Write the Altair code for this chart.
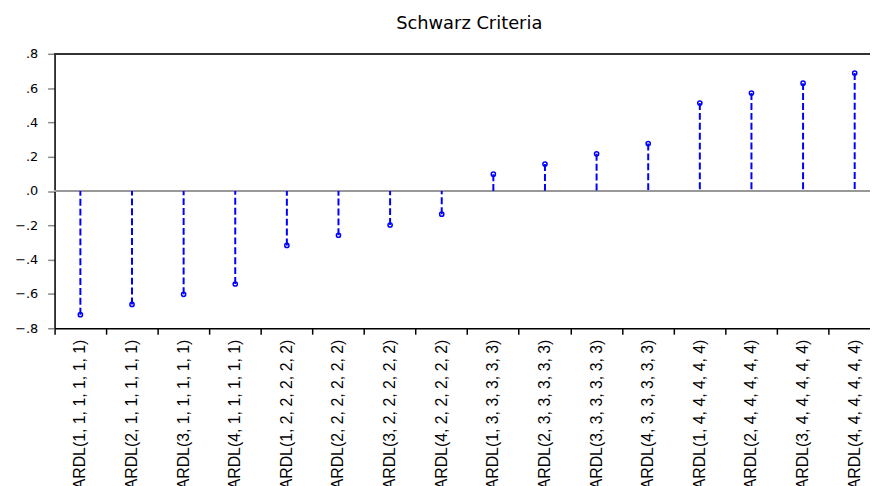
import altair as alt
import pandas as pd

models = [
    "ARDL(1, 1, 1, 1, 1, 1)", "ARDL(2, 1, 1, 1, 1, 1)", "ARDL(3, 1, 1, 1, 1, 1)", "ARDL(4, 1, 1, 1, 1, 1)",
    "ARDL(1, 2, 2, 2, 2, 2)", "ARDL(2, 2, 2, 2, 2, 2)", "ARDL(3, 2, 2, 2, 2, 2)", "ARDL(4, 2, 2, 2, 2, 2)",
    "ARDL(1, 3, 3, 3, 3, 3)", "ARDL(2, 3, 3, 3, 3, 3)", "ARDL(3, 3, 3, 3, 3, 3)", "ARDL(4, 3, 3, 3, 3, 3)",
    "ARDL(1, 4, 4, 4, 4, 4)", "ARDL(2, 4, 4, 4, 4, 4)", "ARDL(3, 4, 4, 4, 4, 4)", "ARDL(4, 4, 4, 4, 4, 4)",
]
sic = [-0.721, -0.661, -0.602, -0.542, -0.317, -0.258, -0.198, -0.135,
       0.098, 0.157, 0.217, 0.277, 0.513, 0.571, 0.629, 0.688]
y_ticks = [-0.8, -0.6, -0.4, -0.2, 0.0, 0.2, 0.4, 0.6, 0.8]

df = pd.DataFrame({"model": models, "sic": sic})

W = 823
H = 277
BAND = 52.1

xscale = alt.Scale(type="band", domain=models, range=[0, BAND * len(models)],
                   paddingInner=0, paddingOuter=0)
yscale = alt.Scale(domain=[-0.8, 0.8], nice=False, zero=False)

x_axis = alt.Axis(bandPosition=0, labelAngle=-90,
                  labelAlign="right", labelBaseline="middle",
                  labelFont="Liberation Sans", labelFontSize=16,
                  labelColor="black", labelPadding=5,
                  tickSize=6, tickColor="black", tickWidth=1.5,
                  domainColor="black", domainWidth=1.5, labelOverlap=False,
                  labelLimit=400, grid=False)
y_axis = alt.Axis(values=y_ticks, labelExpr="replace(format(datum.value, '.1f'), '0.', '.')",
                  labelFont="DejaVu Sans", labelFontSize=13, labelColor="black",
                  labelOverlap=False, labelPadding=10, tickSize=7,
                  tickColor="#888888", tickWidth=1.5,
                  domainColor="black", domainWidth=1.5, grid=False)

x_enc = alt.X("model:N", sort=None, scale=xscale, title=None, axis=x_axis)
y_enc = alt.Y("sic:Q", scale=yscale, title=None, axis=y_axis)

base = alt.Chart(df)

zero_line = alt.Chart(df).mark_rule(color="#999999", strokeWidth=1.5).encode(
    y=alt.YDatum(0, scale=yscale, axis=y_axis, title=None))
top_border = alt.Chart(df).mark_rule(color="#333333", strokeWidth=1.5).encode(
    y=alt.value(0), x=alt.value(0), x2=alt.value(W))

stems = base.mark_rule(color="#0000FF", strokeWidth=2, strokeDash=[7, 3]).encode(
    x=x_enc, y=y_enc, y2=alt.datum(0))
dots = base.mark_point(shape="circle", filled=False, color="#0000FF", size=18, strokeWidth=1.5,
                       opacity=1).encode(x=x_enc, y=y_enc)

chart = alt.layer(zero_line, stems, dots, top_border).properties(
    width=W, height=H,
    autosize=alt.AutoSizeParams(type="none"),
    padding={"left": 47, "top": 44, "right": 0, "bottom": 157},
    title=alt.TitleParams("Schwarz Criteria", font="DejaVu Sans", fontSize=18, fontWeight="normal",
                          color="black", offset=15, dx=7),
).configure_view(stroke=None).configure(background="white")

chart.save("out.html", embed_options={"renderer": "svg", "actions": False})
